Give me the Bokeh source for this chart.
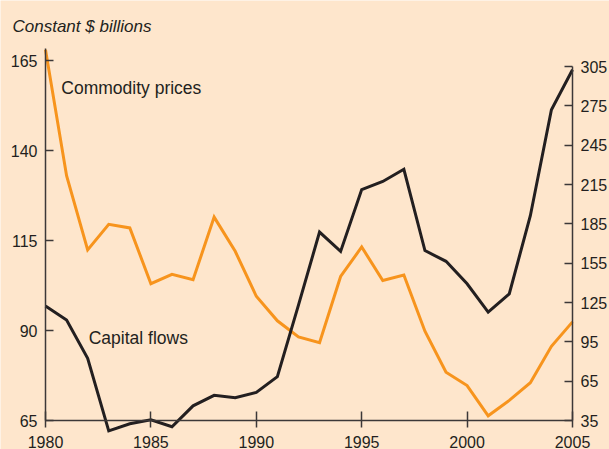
from bokeh.plotting import figure
from bokeh.models import Range1d, LinearAxis, FixedTicker, Label
from bokeh.embed import file_html
from bokeh.resources import INLINE

# Annual series, constant $ billions
years = list(range(1980, 2006))
commodity_prices = [168.0, 133.0, 112.4, 119.5, 118.5, 103.0, 105.6, 104.1, 121.5, 112.0,
                    99.5, 92.7, 88.2, 86.6, 105.0, 113.2, 103.9, 105.4, 89.8, 78.4,
                    74.7, 66.3, 70.6, 75.5, 85.6, 92.4]
capital_flows = [122.3, 111.7, 82.5, 27.1, 32.5, 35.6, 30.2, 46.2, 54.2, 52.3,
                 56.4, 68.5, 123.0, 178.7, 164.0, 211.1, 217.3, 226.6, 164.6, 156.4,
                 139.3, 117.7, 131.6, 191.2, 272.0, 302.5]

x_ticks = [1980, 1985, 1990, 1995, 2000, 2005]
left_ticks = [65, 90, 115, 140, 165]
right_ticks = [35, 65, 95, 125, 155, 185, 215, 245, 275, 305]

BG = "#FEE6CC"
INK = "#231F20"
ORANGE = "#F7941D"
AXIS = "#3C3838"
FONT = "Liberation Sans"

W, H = 609, 449
X0, X1 = 45, 572          # pixel columns of 1980 and 2005
BASE = 420                # pixel row of the baseline (65 left / 35 right)
PX_YEAR = (X1 - X0) / 25
PX_LEFT = 3.6             # pixels per unit, commodity prices scale
PX_RIGHT = 354 / 270      # pixels per unit, capital flows scale

# The plotting frame fills the whole canvas; the axes sit at fixed data locations
# so the lines can dip below the baseline as they do in the data.
x_range = Range1d(1980 - X0 / PX_YEAR, 2005 + (W - X1) / PX_YEAR)
y_range = Range1d(65 - (H - BASE) / PX_LEFT, 65 + BASE / PX_LEFT)
flows_range = Range1d(35 - (H - BASE) / PX_RIGHT, 35 + BASE / PX_RIGHT)

p = figure(width=W, height=H, x_range=x_range, y_range=y_range,
           output_backend="svg", toolbar_location=None, min_border=0,
           x_axis_type=None, y_axis_type=None,
           background_fill_color=BG, border_fill_color=BG, outline_line_color=None)
p.extra_y_ranges = {"flows": flows_range}
p.grid.visible = False

xa = LinearAxis(ticker=FixedTicker(ticks=x_ticks), fixed_location=65, bounds=(1980, 2005))
p.add_layout(xa, "below")
la = LinearAxis(ticker=FixedTicker(ticks=left_ticks), fixed_location=1980,
                bounds=(65, 65 + (BASE - 48) / PX_LEFT))
p.add_layout(la, "left")
ra = LinearAxis(y_range_name="flows", ticker=FixedTicker(ticks=right_ticks),
                fixed_location=2005, bounds=(35, 305))
p.add_layout(ra, "right")

xa.major_tick_in = 9
xa.major_tick_out = 7
xa.major_label_standoff = 8
for ax in (la, ra):
    ax.major_tick_in = 8
    ax.major_tick_out = 0
    ax.major_label_standoff = 8
for ax in (xa, la, ra):
    ax.minor_tick_line_color = None
    ax.axis_line_color = AXIS
    ax.axis_line_width = 1.5
    ax.major_tick_line_color = AXIS
    ax.major_tick_line_width = 1.5
    ax.major_label_text_font = FONT
    ax.major_label_text_font_size = "16px"
    ax.major_label_text_color = INK

p.line(years, commodity_prices, line_color=ORANGE, line_width=3, line_join="miter")
p.line(years, capital_flows, line_color=INK, line_width=3, line_join="miter",
       y_range_name="flows")

p.add_layout(Label(x=1980.75, y=157.5, text="Commodity prices", text_font=FONT,
                   text_font_size="17.5px", text_color=INK, text_baseline="alphabetic"))
p.add_layout(Label(x=1982.05, y=88.0, text="Capital flows", text_font=FONT,
                   text_font_size="17.5px", text_color=INK, text_baseline="alphabetic"))
p.add_layout(Label(x=1980 - (X0 - 12) / PX_YEAR, y=65 + (BASE - 26) / PX_LEFT,
                   text="Constant $ billions", text_font=FONT, text_font_size="17px",
                   text_font_style="italic", text_color=INK, text_baseline="alphabetic"))

open("out.html", "w").write(file_html(p, INLINE))
